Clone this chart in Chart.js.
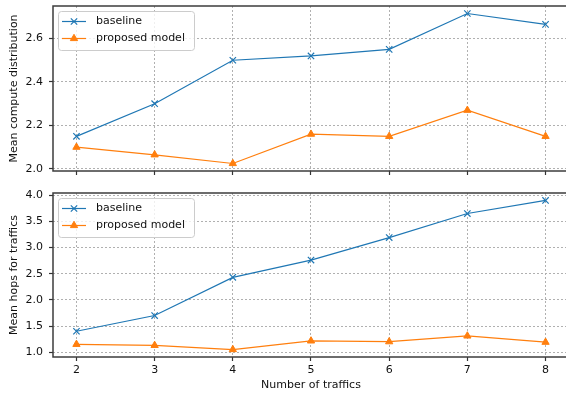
<!DOCTYPE html>
<html>
<head>
<meta charset="utf-8">
<script src="https://cdn.jsdelivr.net/npm/chart.js@4.4.1/dist/chart.umd.min.js"></script>
<style>
  html, body { margin: 0; padding: 0; background: #fff; }
  #wrap { position: relative; width: 566px; height: 396px; overflow: hidden; }
  canvas { position: absolute; left: 0; }
  #top { top: 0; }
  #bottom { top: 185px; }
</style>
</head>
<body>
<div id="wrap">
  <canvas id="top" width="580" height="185"></canvas>
  <canvas id="bottom" width="580" height="211"></canvas>
</div>
<script>
// Data
const traffics = [2, 3, 4, 5, 6, 7, 8];
const computeBaseline = [2.15, 2.30, 2.50, 2.52, 2.55, 2.715, 2.665];
const computeProposed = [2.10, 2.065, 2.025, 2.16, 2.15, 2.27, 2.15];
const hopsBaseline = [1.40, 1.70, 2.43, 2.76, 3.19, 3.65, 3.90];
const hopsProposed = [1.15, 1.13, 1.05, 1.215, 1.20, 1.31, 1.19];
const seriesLabels = ['baseline', 'proposed model'];
const xTicks = [2, 3, 4, 5, 6, 7, 8];
const computeTicks = [2.0, 2.2, 2.4, 2.6];
const hopsTicks = [1.0, 1.5, 2.0, 2.5, 3.0, 3.5, 4.0];

const BLUE = '#1f77b4';
const ORANGE = '#ff7f0e';

Chart.defaults.font.family = "'DejaVu Sans', sans-serif";
Chart.defaults.font.size = 11;
Chart.defaults.color = '#111';

// matplotlib style 5% margins
function padRange(values) {
  const lo = Math.min(...values), hi = Math.max(...values);
  const m = (hi - lo) * 0.05;
  return [lo - m, hi + m];
}

const [xMin, xMax] = padRange(traffics);

const frameAndLegend = {
  id: 'frameAndLegend',
  afterDraw(chart) {
    const { ctx, chartArea: a } = chart;
    ctx.save();
    ctx.strokeStyle = '#3c3c3c';
    ctx.lineWidth = 1.5;
    ctx.strokeRect(a.left, a.top, a.right - a.left, a.bottom - a.top);

    // legend box, upper left inside the axes
    const x0 = a.left + 5, y0 = a.top + 5;
    ctx.beginPath();
    ctx.roundRect(x0 + 0.5, y0 + 0.5, 136, 39, 3);
    ctx.fillStyle = 'rgba(255,255,255,0.8)';
    ctx.fill();
    ctx.strokeStyle = '#cccccc';
    ctx.lineWidth = 1;
    ctx.stroke();

    chart.data.datasets.forEach((ds, i) => {
      const y = y0 + 10.5 + i * 17;
      ctx.strokeStyle = ds.borderColor;
      ctx.fillStyle = ds.backgroundColor;
      ctx.lineWidth = ds.borderWidth;
      ctx.beginPath();
      ctx.moveTo(x0 + 4, y);
      ctx.lineTo(x0 + 28, y);
      ctx.stroke();
      ctx.lineWidth = ds.pointBorderWidth;
      Chart.helpers.drawPoint(ctx, {
        pointStyle: ds.pointStyle, radius: ds.pointRadius, rotation: 0, borderWidth: ds.pointBorderWidth
      }, x0 + 16, y);
      ctx.fillStyle = '#111';
      ctx.font = "11px 'DejaVu Sans', sans-serif";
      ctx.textBaseline = 'middle';
      ctx.textAlign = 'left';
      ctx.fillText(ds.label, x0 + 38, y);
    });
    ctx.restore();
  }
};

function makeChart(id, yTitle, baseline, proposed, yTicks, showX, padTop, xHeight) {
  const [yMin, yMax] = padRange(baseline.concat(proposed));
  const grid = { color: '#b0b0b0', lineWidth: 1, tickColor: '#333', tickWidth: 1.2, tickLength: 4 };
  const border = { display: false, dash: [2, 2] };
  return new Chart(document.getElementById(id), {
    type: 'line',
    data: {
      datasets: [
        {
          label: seriesLabels[0],
          data: traffics.map((x, i) => ({ x, y: baseline[i] })),
          borderColor: BLUE, backgroundColor: BLUE, borderWidth: 1.2,
          pointStyle: 'crossRot', pointRadius: 4.5, pointBorderWidth: 1.2, tension: 0
        },
        {
          label: seriesLabels[1],
          data: traffics.map((x, i) => ({ x, y: proposed[i] })),
          borderColor: ORANGE, backgroundColor: ORANGE, borderWidth: 1.2,
          pointStyle: 'triangle', pointRadius: 4.2, pointBorderWidth: 1, tension: 0
        }
      ]
    },
    options: {
      responsive: false,
      animation: false,
      devicePixelRatio: 1,
      layout: { padding: { top: padTop, right: 11, left: 0, bottom: 0 } },
      plugins: { legend: { display: false }, tooltip: { enabled: false } },
      scales: {
        x: {
          type: 'linear', min: xMin, max: xMax,
          afterBuildTicks: s => { s.ticks = xTicks.map(v => ({ value: v })); },
          ticks: { display: showX, padding: 3, autoSkip: false, maxRotation: 0, callback: v => String(v) },
          grid, border,
          title: { display: showX, text: 'Number of traffics', padding: { top: 0, bottom: 4 } },
          afterFit: s => { s.height = xHeight; s.paddingLeft = 0; s.paddingRight = 0; }
        },
        y: {
          type: 'linear', min: yMin, max: yMax,
          afterBuildTicks: s => { s.ticks = yTicks.map(v => ({ value: v })); },
          ticks: { padding: 6, callback: v => v.toFixed(1) },
          grid, border,
          title: { display: true, text: yTitle, padding: { top: 8, bottom: 0 } },
          afterFit: s => { s.width = 53; s.paddingTop = 0; s.paddingBottom = 0; }
        }
      }
    },
    plugins: [frameAndLegend]
  });
}

makeChart('top', 'Mean compute distribution', computeBaseline, computeProposed, computeTicks, false, 6, 14);
makeChart('bottom', 'Mean hops for traffics', hopsBaseline, hopsProposed, hopsTicks, true, 8, 39);
</script>
</body>
</html>
